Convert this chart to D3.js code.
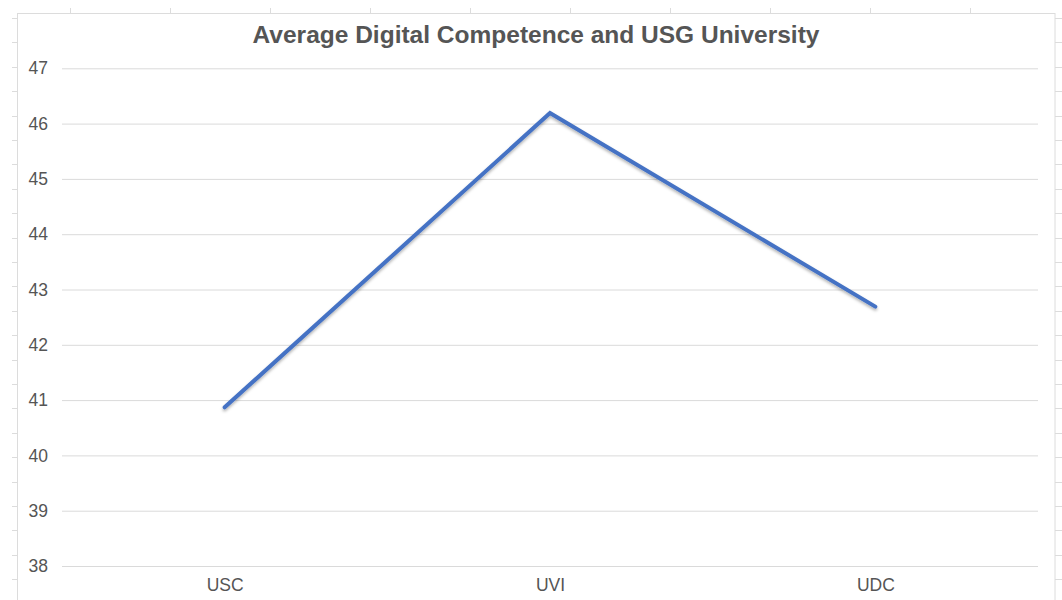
<!DOCTYPE html>
<html>
<head>
<meta charset="utf-8">
<script src="https://cdn.jsdelivr.net/npm/d3@7"></script>
<style>
  html, body { margin:0; padding:0; background:#fff; overflow:hidden; }
  svg { display:block; font-family:"Liberation Sans", Arial, Helvetica, sans-serif; }
</style>
</head>
<body>
<div id="chart"></div>
<script>
"use strict";
// line chart: average digital competence per university
const categories = ["USC", "UVI", "UDC"];
const values = [40.87, 46.19, 42.69];
const yTicks = [38, 39, 40, 41, 42, 43, 44, 45, 46, 47];
const title = "Average Digital Competence and USG University";

const W = 1062, H = 600;
const M = { left: 62, right: 1038, top: 68.3, bottom: 566 };

const svg = d3.select("#chart").append("svg").attr("width", W).attr("height", H);

// shadow under the line
svg.append("defs").append("filter").attr("id", "shadow").attr("x", "-10%").attr("y", "-10%").attr("width", "120%").attr("height", "130%")
  .append("feDropShadow").attr("dx", 0).attr("dy", 2).attr("stdDeviation", 1.5).attr("flood-color", "#000").attr("flood-opacity", 0.3);

// spreadsheet backdrop: frame + ruler ticks
const frame = svg.append("g").attr("stroke", "#dcdcdc").attr("stroke-width", 1).attr("fill", "none");
frame.append("rect").attr("x", 17.5).attr("y", 13.5).attr("width", 1037.5).attr("height", 600);
d3.range(70, 1062, 100).forEach((x) => {
  frame.append("line").attr("x1", x + 0.5).attr("x2", x + 0.5).attr("y1", 8).attr("y2", 13);
});
d3.range(18, 600, 24.4).forEach((y) => {
  frame.append("line").attr("x1", 12).attr("x2", 17).attr("y1", Math.round(y) + 0.5).attr("y2", Math.round(y) + 0.5);
  frame.append("line").attr("x1", 1055).attr("x2", 1062).attr("y1", Math.round(y) + 0.5).attr("y2", Math.round(y) + 0.5);
});

const x = d3.scalePoint().domain(categories).range([M.left, M.right]).padding(0.5);
const y = d3.scaleLinear().domain([38, 47]).range([M.bottom, M.top]);

// gridlines + y labels
const yAxis = svg.append("g").attr("transform", `translate(${M.left},0)`)
  .call(d3.axisLeft(y).tickValues(yTicks).tickFormat(d3.format("d")).tickSize(-(M.right - M.left)).tickPadding(14));
yAxis.select(".domain").remove();
yAxis.selectAll(".tick line").attr("stroke", "#dadada").attr("stroke-width", 1);
yAxis.selectAll(".tick text").attr("fill", "#555").attr("font-size", 17.5).attr("font-family", "Liberation Sans, Arial, sans-serif");

// category labels
const xAxis = svg.append("g").attr("transform", `translate(0,${M.bottom})`)
  .call(d3.axisBottom(x).tickSize(0).tickPadding(12.5));
xAxis.select(".domain").remove();
xAxis.selectAll(".tick text").attr("fill", "#555").attr("font-size", 17.5).attr("font-family", "Liberation Sans, Arial, sans-serif");

// the line
const line = d3.line().x((d, i) => x(categories[i])).y((d) => y(d));
svg.append("path").datum(values).attr("d", line)
  .attr("fill", "none").attr("stroke", "#4472c4").attr("stroke-width", 4)
  .attr("stroke-linejoin", "miter").attr("stroke-linecap", "round").attr("filter", "url(#shadow)");

// title
svg.append("text").attr("x", 536).attr("y", 43).attr("text-anchor", "middle")
  .attr("fill", "#555").attr("font-size", 24.5).attr("font-weight", 700).text(title);
</script>
</body>
</html>
